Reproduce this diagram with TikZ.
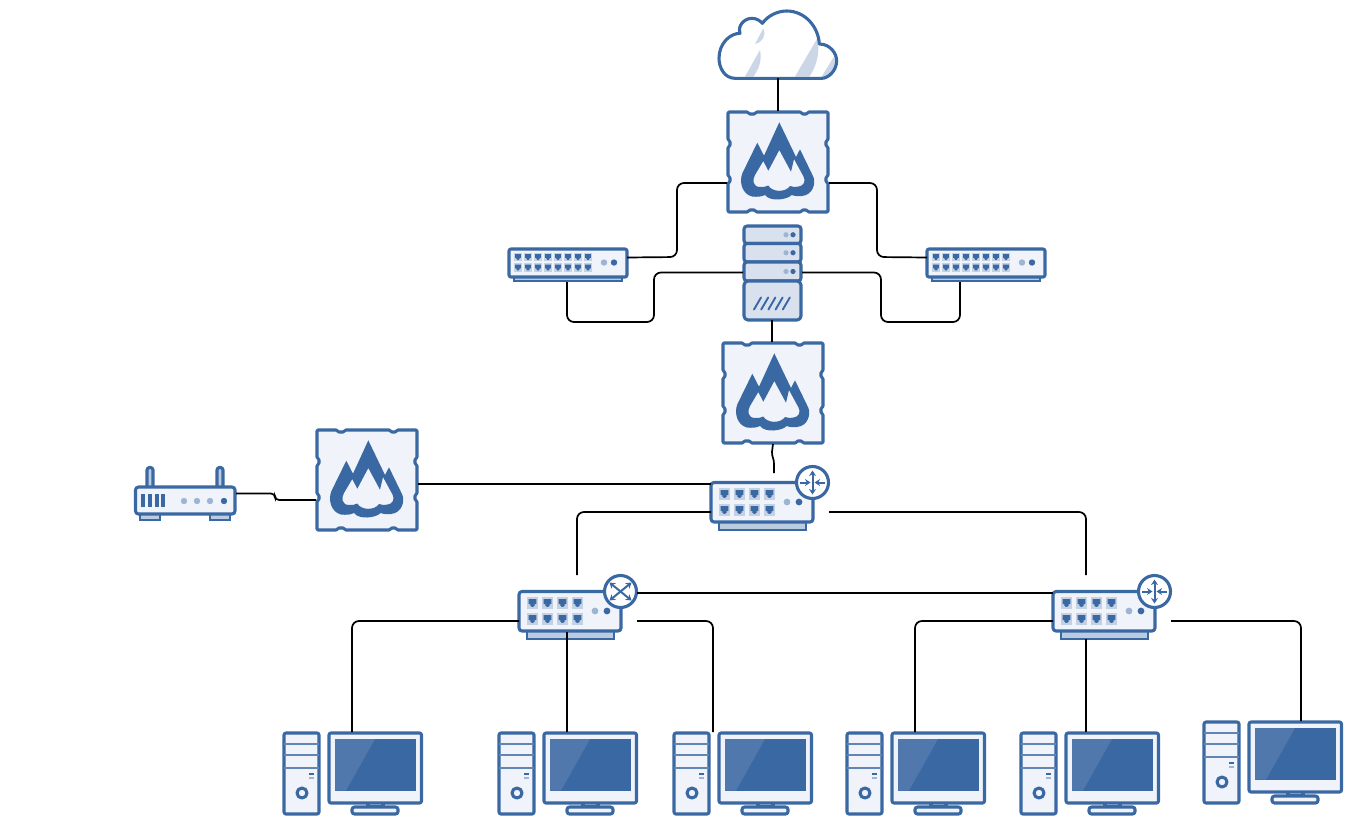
\documentclass[tikz,border=0pt]{standalone}
\usetikzlibrary{arrows.meta}
\definecolor{ico}{HTML}{3A68A3}
\definecolor{pale}{HTML}{F0F4FA}
\definecolor{srv}{HTML}{D9E0EE}
\definecolor{bas}{HTML}{BBCBE0}
\definecolor{prt}{HTML}{C3D1E4}
\definecolor{led}{HTML}{9DB4D3}
\definecolor{gls}{HTML}{5078AD}
\definecolor{sli}{HTML}{CBD6E6}
\newcommand{\portglyph}[3]{%
  \fill[prt,shift={(#1,#2)},scale=#3] (-.5,-.5) rectangle (.5,.5);
  \fill[ico,shift={(#1,#2)},scale=#3] (-.34,-.34)--(.34,-.34)--(.34,.1)--(.19,.1)--(.19,.24)--(.1,.24)--(.1,.34)--(-.1,.34)--(-.1,.24)--(-.19,.24)--(-.19,.1)--(-.34,.1)--cycle;}
\tikzset{
  x=1pt,y=-1pt,
  slot/.style n args={2}{minimum width=#1pt,minimum height=#2pt,inner sep=0pt,outer sep=0pt,anchor=north west},
  ln/.style={draw=black,line width=1.7pt,rounded corners=7pt},
  ic/.style={draw=ico,line width=3.1pt,line join=round},
  pics/firewall/.style={code={
    \draw[ic,fill=pale,rounded corners=1pt] (1,1)--(21,1)--(22,3)--(28,3)--(29,1)--(74,1)--(75,3)--(80,3)--(81,1)--(101,1)--(101,29)--(99,30)--(99,35)--(101,36)--(101,65)--(99,66)--(99,71)--(101,72)--(101,101)--(81,101)--(80,99)--(75,99)--(74,101)--(29,101)--(28,99)--(22,99)--(21,101)--(1,101)--(1,72)--(3,71)--(3,66)--(1,65)--(1,36)--(3,35)--(3,30)--(1,29)--cycle;
    \fill[ico,even odd rule,shift={(51,51)}]
      (1.3,-39.7)--(18,-5)--(22,-12.7)--(35.3,14.7) .. controls (38,21) and (35,33) .. (24,34) .. controls (20,34.5) and (16,34) .. (13.7,33) .. controls (9,38) and (-8,40) .. (-13,33) .. controls (-17,35) and (-21,35) .. (-26,34.5) .. controls (-36,32) and (-39,20) .. (-35.7,11.3)--(-20.7,-19.3)--(-14,-6.3)--cycle
      (1.3,-12)--(-9.7,8.7)--(-14.7,-1)--(-23,13) .. controls (-26,18) and (-25,25) .. (-18,25) .. controls (-15,25) and (-12,25) .. (-9.7,23.5) .. controls (-6,30) and (7,31) .. (12,24) .. controls (14,25) and (17,25) .. (20,24.7) .. controls (26,24) and (28,19) .. (25.5,14.5)--(16,-3)--(13,9.7)--cycle;
  }},
  pics/switchbox/.style={code={
    \draw[draw=ico,line width=2.6pt,fill=bas] (5,28) rectangle (113,32);
    \draw[ic,fill=pale,rounded corners=2pt] (0,0) rectangle (118,28);
    \foreach \c in {0,...,7}{\foreach \r in {8,18.5}{\portglyph{9+10*\c}{\r}{8.5}}}
    \fill[led] (95,13.5) circle (3.2pt);
    \fill[ico] (105,13.5) circle (3.2pt);
  }},
  pics/routerbase/.style={code={
    \draw[draw=ico,line width=2.8pt,fill=bas] (8,56) rectangle (95,64);
    \draw[ic,fill=pale,rounded corners=3pt] (0,16.5) rectangle (102,56);
    \foreach \c in {0,1,2,3}{\foreach \r in {28,44}{\portglyph{13.5+15*\c}{\r}{11.5}}}
    \fill[led] (76,36) circle (3.4pt);
    \fill[ico] (88,36) circle (3.4pt);
    \draw[ic,fill=white] (101.5,16.5) circle (16);
  }},
  pics/routerin/.style={code={
    \pic {routerbase};
    \begin{scope}[shift={(101.5,16.5)},draw=ico,line width=2pt,fill=ico,>={Stealth[length=5.5pt,width=7pt]}]
      \draw[<->] (0,-12)--(0,12);
      \draw[->] (-12.5,0)--(-2,0);
      \draw[->] (12.5,0)--(2,0);
    \end{scope}
  }},
  pics/routerout/.style={code={
    \pic {routerbase};
    \begin{scope}[shift={(101.5,16.5)},draw=ico,line width=2pt,fill=ico,>={Stealth[length=5.5pt,width=7pt]}]
      \draw[<->] (-11,-9)--(11,9);
      \draw[<->] (-11,9)--(11,-9);
    \end{scope}
  }},
  pics/homerouter/.style={code={
    \draw[ic,fill=bas,line cap=round,rounded corners=2.5pt] (12,21)--(12,1.5)--(18,1.5)--(18,21);
    \draw[ic,fill=bas,line cap=round,rounded corners=2.5pt] (82,21)--(82,1.5)--(88,1.5)--(88,21);
    \draw[draw=ico,line width=2.6pt,fill=bas] (5,48) rectangle (25,54);
    \draw[draw=ico,line width=2.6pt,fill=bas] (75,48) rectangle (95,54);
    \draw[ic,fill=pale,rounded corners=3pt] (0.5,21) rectangle (100,48);
    \foreach \x in {8,15,22,28}{\fill[ico] (\x-1.6,28) rectangle (\x+1.6,41);}
    \foreach \x in {49,62,75}{\fill[led] (\x,35) circle (3.2pt);}
    \fill[ico] (89,35) circle (3.2pt);
  }},
  pics/serverbox/.style={code={
    \foreach \a/\b in {1/18.5,18.5/37,37/56}{
      \draw[ic,fill=srv,rounded corners=3pt] (1,\a) rectangle (58,\b);
      \fill[led] (43,{(\a+\b)/2}) circle (2.6pt);
      \fill[ico] (50,{(\a+\b)/2}) circle (2.6pt);
    }
    \draw[ic,fill=srv,rounded corners=4pt] (1,56) rectangle (58,95);
    \foreach \i in {0,...,4}{\draw[ico,line width=1.9pt,line cap=round] (11+7.2*\i,84.5)--(18+7.2*\i,72.5);}
  }},
  pics/pc/.style={code={
    \draw[ic,fill=pale,rounded corners=2pt] (1,1) rectangle (36,82);
    \draw[draw=ico!80!white,line width=2.2pt] (1,12)--(36,12) (1,23)--(36,23) (1,36)--(36,36);
    \draw[ic,fill=pale] (19,61) circle (5);
    \draw[ico,line width=2pt] (26,41.5)--(31,41.5);
    \draw[led,line width=2pt] (26,46)--(31,46);
    \draw[ic,fill=pale] (85,71)--(85,75)--(100,75)--(100,71);
    \draw[ic,fill=pale,rounded corners=2.5pt] (69,75) rectangle (115,82);
    \draw[ic,fill=pale,rounded corners=2pt] (46,1) rectangle (138.5,71);
    \fill[ico] (52,7) rectangle (132.5,58.5);
    \fill[gls] (52,7)--(92,7)--(63,58.5)--(52,58.5)--cycle;
  }},
}
\begin{document}
\begin{tikzpicture}
\useasboundingbox (0,0) rectangle (1362,835);
% cloud
\node[slot={118}{66}] (cloud) at (719,12) {};
\begin{scope}[shift={(700,0)},x=0.33333pt,y=-0.33333pt]
  \fill[white] (105,235) .. controls (75,235) and (57,205) .. (57,175) .. controls (57,130) and (90,100) .. (120,100) .. controls (112,75) and (135,55) .. (155,55) .. controls (170,55) and (180,62) .. (187,70) .. controls (205,45) and (235,33) .. (260,33) .. controls (315,33) and (355,80) .. (358,132) .. controls (390,132) and (410,160) .. (410,182) .. controls (410,212) and (385,235) .. (365,235) -- cycle;
  \fill[sli] (135,230)--(180,150) .. controls (188,190) and (170,215) .. (160,230)--cycle;
  \fill[sli] (165,132)--(190,85) .. controls (200,110) and (185,128) .. (165,132)--cycle;
  \fill[sli] (285,230)--(352,115) .. controls (362,165) and (345,205) .. (328,230)--cycle;
  \fill[sli] (365,230)--(403,168) .. controls (410,200) and (395,222) .. (380,230)--cycle;
  \draw[ic] (105,235) .. controls (75,235) and (57,205) .. (57,175) .. controls (57,130) and (90,100) .. (120,100) .. controls (112,75) and (135,55) .. (155,55) .. controls (170,55) and (180,62) .. (187,70) .. controls (205,45) and (235,33) .. (260,33) .. controls (315,33) and (355,80) .. (358,132) .. controls (390,132) and (410,160) .. (410,182) .. controls (410,212) and (385,235) .. (365,235) -- cycle;
\end{scope}
% devices
\node[slot={102}{102}] (fwtop) at (727,111) {};  \pic at (fwtop.north west) {firewall};
\node[slot={102}{102}] (fwmid) at (722,342) {};  \pic at (fwmid.north west) {firewall};
\node[slot={102}{102}] (fwleft) at (316,429) {}; \pic at (fwleft.north west) {firewall};
\node[slot={118}{33}] (swl) at (509,249) {};  \pic at (swl.north west) {switchbox};
\node[slot={118}{33}] (swr) at (927,249) {};  \pic at (swr.north west) {switchbox};
\node[slot={59}{95}] (srvr) at (743,225) {};  \pic at (srvr.north west) {serverbox};
\node[slot={118}{64}] (rcore) at (711,466) {}; \pic at (rcore.north west) {routerin};
\node[slot={118}{64}] (rleft) at (519,575) {}; \pic at (rleft.north west) {routerout};
\node[slot={118}{64}] (rright) at (1053,575) {}; \pic at (rright.north west) {routerin};
\node[slot={101}{55}] (home) at (135,466) {}; \pic at (home.north west) {homerouter};
\node[slot={139}{83}] (pca) at (283,732) {}; \pic at (pca.north west) {pc};
\node[slot={139}{83}] (pcb) at (498,732) {}; \pic at (pcb.north west) {pc};
\node[slot={139}{83}] (pcc) at (673,732) {}; \pic at (pcc.north west) {pc};
\node[slot={139}{83}] (pcd) at (846,732) {}; \pic at (pcd.north west) {pc};
\node[slot={139}{83}] (pce) at (1020,732) {}; \pic at (pce.north west) {pc};
\node[slot={139}{83}] (pcf) at (1203,721) {}; \pic at (pcf.north west) {pc};
% connectors
\draw[ln] (cloud.south) -- (cloud.south |- fwtop.north);
\draw[ln] ([yshift=-21pt]fwtop.west) -| (677,257) -- ([yshift=8pt]swl.east);
\draw[ln] ([yshift=-21pt]fwtop.east) -| (877,257) -- ([yshift=8pt]swr.west);
\draw[ln] ([xshift=-1pt]swl.south) |- (654,322) |- (srvr.west);
\draw[ln] (srvr.east) -| (881,322) -| ([xshift=-26pt]swr.south);
\draw[ln] ([xshift=-0.5pt]srvr.south) -- (fwmid.north -| 772,0);
\draw[line width=1.7pt] (fwmid.south) -- (772,452) .. controls (772,458) and (774,458) .. (774,464) -- (774,473);
\draw[ln] ([yshift=-4pt]fwleft.east) -- ([yshift=14pt]rcore.west);
\draw[ln,rounded corners=4pt] (home.east) -- (275,493.5) -- (275,500) -- ([yshift=-20pt]fwleft.west);
\draw[ln] ([yshift=-14pt]rcore.west) -| ([xshift=-1pt]rleft.north);
\draw[ln] ([yshift=-14pt]rcore.east) -| ([xshift=-26pt]rright.north);
\draw[ln] ([yshift=14pt]rleft.east) -- ([yshift=14pt]rright.west);
\draw[ln] ([yshift=-14pt]rleft.west) -| ([xshift=69pt]pca.north west);
\draw[ln] (567,632) -- (pcb.north -| 567,0);
\draw[ln] ([yshift=-14pt]rleft.east) -| ([xshift=40pt]pcc.north west);
\draw[ln] ([yshift=-14pt]rright.west) -| ([xshift=69pt]pcd.north west);
\draw[ln] ([xshift=-26pt]rright.south) -- ([xshift=66pt]pce.north west);
\draw[ln] ([yshift=-14pt]rright.east) -| ([xshift=98pt]pcf.north west);
\end{tikzpicture}
\end{document}
